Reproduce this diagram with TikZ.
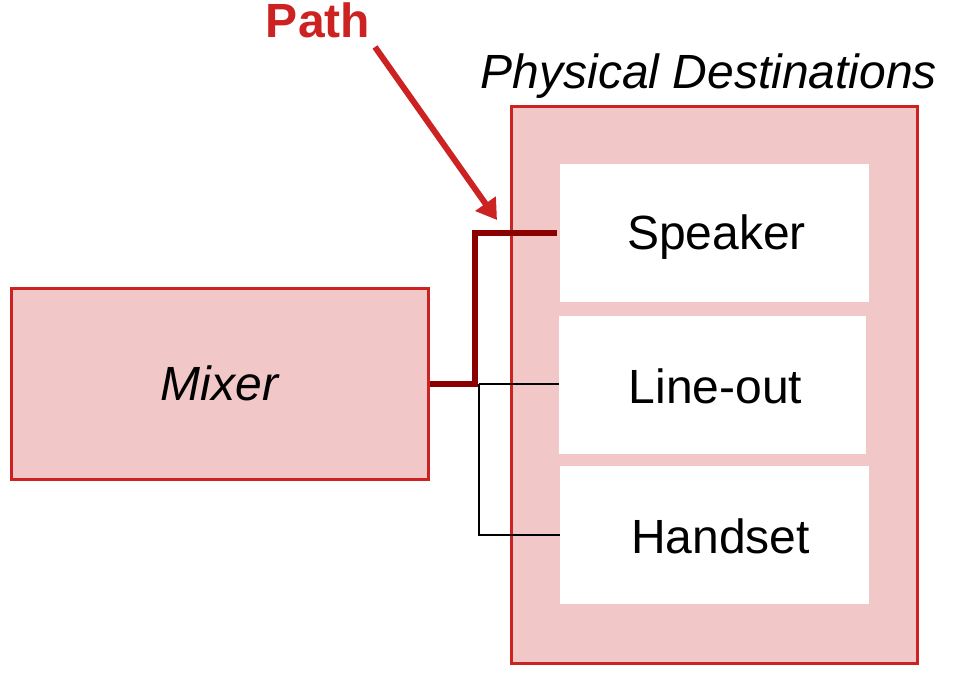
\documentclass[tikz,border=0pt]{standalone}
\usepackage{fontspec}
\setmainfont{Liberation Sans}
\usetikzlibrary{arrows.meta}
\definecolor{pinkfill}{HTML}{F2C7C7}
\definecolor{redline}{HTML}{CC2222}
\definecolor{darkred}{HTML}{8B0000}
\begin{document}
\begin{tikzpicture}[x=1pt,y=-1pt,
  bigtext/.style={font=\fontsize{48}{58}\selectfont},
  redbox/.style={draw=redline,fill=pinkfill,line width=3pt,inner sep=0pt},
  whitebox/.style={fill=white,draw=none,inner sep=0pt},
  thinwire/.style={draw=black,line width=2pt},
  thickwire/.style={draw=darkred,line width=6pt}]
\useasboundingbox (0,0) rectangle (955,682);
\node[redbox,minimum width=417pt,minimum height=191pt,bigtext] (mixer) at (219.5,383.5) {\itshape Mixer};
\node[redbox,minimum width=406pt,minimum height=556pt] (dest) at (714,385) {};
\node[whitebox,minimum width=309pt,minimum height=138pt] (spk) at (714.5,233) {};
\node[whitebox,minimum width=307pt,minimum height=138pt] (line) at (712.5,385) {};
\node[whitebox,minimum width=309pt,minimum height=138pt] (hand) at (714.5,535) {};
\node[bigtext] (spkt) at ([xshift=2pt,yshift=-4pt]spk.center) {Speaker};
\node[bigtext] (linet) at ([xshift=3pt,yshift=-1pt]line.center) {Line-out};
\node[bigtext] (handt) at ([xshift=6pt,yshift=-1pt]hand.center) {Handset};
\node[bigtext,anchor=base] (title) at (709,89) {\itshape Physical Destinations};
\node[bigtext,anchor=base,text=redline] (pathlbl) at (318,38) {\bfseries Path};
\coordinate (j) at ([xshift=49pt]mixer.east);
\draw[thinwire] (j) -- (j -| line.west);
\draw[thinwire] (j) |- (hand.west);
\draw[thickwire] (mixer.east) -- ++(45,0) |- ([xshift=-3pt]spk.west);
\coordinate (as) at (375,47);
\coordinate (tip) at (497,220);
\draw[redline,line width=6pt,-{Triangle[length=20pt,width=24pt]}] (as) -- (tip);
\end{tikzpicture}
\end{document}
